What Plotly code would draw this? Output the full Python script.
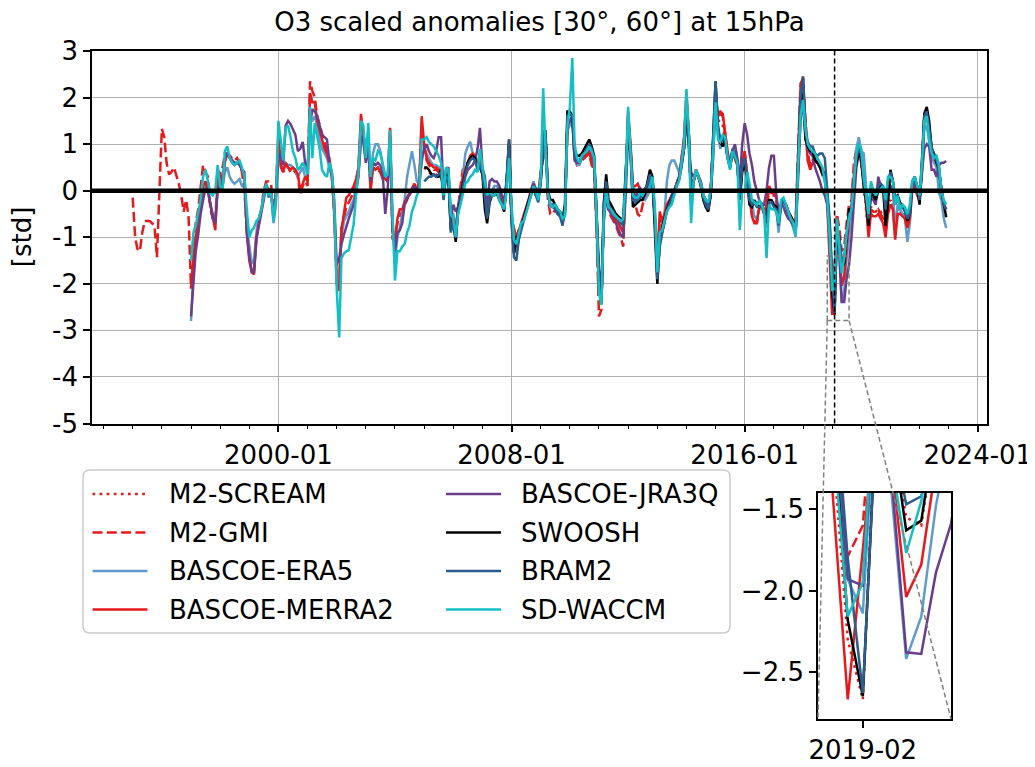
import pandas as pd
import plotly.graph_objects as go

# ---------------- data (monthly scaled anomalies) ----------------
M2_SCREAM_START = "2005-01-01"
M2_SCREAM = [
    0.5, 0.45, 0.4, 0.35, 0.35, 0.35, 0.3, 0.4, -0.1, 0.35, 0.3, -0.8,
    -0.6, -0.95, -0.4, -0.1, 0.25, 0.45, 0.6, 0.7, 0.8, 0.75, 0.5, 0.6,
    0.4, -0.1, -0.5, -0.15, -0.05, 0.0, 0.0, -0.15, -0.25, -0.4, 0.2, 1.0,
    -0.6, -1.0, -1.05, -0.9, -0.75, -0.55, -0.4, -0.2, 0.0, 0.15, 0.0, -0.15,
    0.3, 0.8, 1.25, -0.1, -0.35, -0.35, -0.35, -0.45, -0.5, -0.6, -0.4, 1.5,
    1.55, 1.6, 0.75, 0.6, 0.65, 0.7, 0.75, 0.8, 0.85, 0.7, 0.55, -0.6,
    -2.3, -2.4, -0.5, 0.1, -0.35, -0.45, -0.55, -0.6, -0.7, -0.8, -0.9, 0.2,
    1.6, 0.9, 0.0, 0.0, -0.1, -0.1, -0.05, 0.0, 0.1, 0.25, 0.3, -0.5,
    -1.7, -0.8, -0.75, -0.55, -0.35, -0.25, -0.1, 0.0, 0.15, 0.3, 0.65, 1.05,
    2.0, 1.15, -0.25, 0.25, 0.45, 0.3, 0.15, -0.1, -0.2, -0.3, 0.0, 0.9,
    2.1, 1.5, 1.5, 1.4, 1.15, 0.8, 0.5, 0.85, 0.7, 0.55, -0.1, 0.5,
    0.8, 0.3, -0.1, -0.45, -0.55, -0.6, -0.35, -0.3, -0.5, -0.4, 0.0, -0.1,
    -0.1, -0.2, -0.65, -0.3, -0.2, -0.3, -0.45, -0.55, -0.65, -0.7, 0.8, 2.1,
    2.4, 1.3, 0.75, 0.55, 0.65, 0.7, 0.6, 0.55, 0.45, 0.35, -0.2, -1.1,
    -2.3, -2.67, -0.8, -1.0, -1.55, -1.6, -1.0, -0.4, -0.4, 0.3, 0.8, 0.9,
    0.6, 0.1, -0.25, -0.9, -0.35, -0.4, -0.45, -0.4, -0.45, -0.55, -0.85, -0.35,
    -0.2, -0.3, -0.9, -0.4, -0.45, -0.5, -0.55, -0.75, -0.55, 0.05, 0.15, -0.05,
    -0.25, 0.55, 1.6, 1.7, 1.3, 0.9, 0.7, 0.6, 0.4, 0.0, -0.3, -0.45,
]

M2_GMI_START = "1995-01-01"
M2_GMI = [
    -0.15, -1.0, -1.25, -1.3, -0.9, -0.65, -0.65, -0.65, -0.7, -0.75, -1.43, 0.0,
    1.33, 1.15, 0.6, 0.35, 0.4, 0.5, 0.35, 0.15, -0.1, -0.45, -0.2, -0.55,
    -2.1, -1.3, -0.7, -0.4, 0.1, 0.55, 0.4, 0.3, -0.4, -0.6, -0.7, 0.4,
    0.4, 0.5, 0.8, 0.8, 0.75, 0.7, 0.65, 0.7, 0.6, 0.4, 0.0, -0.8,
    -1.3, -1.7, -1.7, -0.9, -0.6, -0.4, 0.0, 0.2, 0.2, 0.15, -0.5, 0.0,
    1.1, 0.5, 0.4, 0.55, 0.5, 0.4, 0.45, 0.4, 0.3, -0.1, 0.1, 0.2,
    0.1, 2.35, 2.15, 2.0, 1.6, 1.4, 1.2, 1.0, 0.85, 0.7, 0.3, -0.5,
    -1.8, -1.9, -0.8, -0.6, -0.35, -0.25, -0.15, 0.0, 0.2, 0.5, 1.5, 1.2,
    0.8, 1.0, 0.05, 0.5, 0.45, 0.45, 0.4, 0.25, 0.2, 0.2, 1.3, -1.05,
    -1.0, -0.7, -0.55, -0.45, -0.3, -0.2, -0.05, 0.0, 0.1, 0.0, 0.2, 1.45,
    0.9, 0.65, 0.55, 0.5, 0.45, 0.45, 0.4, 0.45, -0.1, 0.35, 0.3, -0.75,
    -0.6, -0.9, -0.4, 0.1, 0.45, 0.5, 0.6, 0.7, 0.8, 0.75, 0.5, 0.65,
    0.4, 0.1, -0.4, -0.1, -0.05, 0.0, 0.0, -0.15, -0.25, -0.4, 0.2, 1.0,
    -0.6, -0.8, -1.0, -0.85, -0.75, -0.6, -0.4, -0.2, 0.0, 0.15, 0.0, -0.1,
    0.4, 0.7, 1.2, -0.2, -0.5, -0.5, -0.4, -0.5, -0.55, -0.6, -0.45, 1.35,
    1.45, 1.55, 0.7, 0.55, 0.6, 0.65, 0.7, 0.75, 0.8, 0.55, 0.45, -0.75,
    -2.7, -2.55, -0.6, -0.1, -0.45, -0.55, -0.65, -0.75, -0.9, -1.0, -1.2, 0.1,
    1.6, 0.9, -0.1, -0.3, -0.5, -0.55, -0.3, -0.15, 0.0, 0.2, 0.3, -0.6,
    -1.6, -0.6, -0.7, -0.55, -0.35, -0.25, -0.15, 0.0, 0.15, 0.3, 0.7, 1.1,
    2.0, 1.1, -0.3, 0.2, 0.4, 0.3, 0.15, -0.15, -0.25, -0.3, 0.0, 0.9,
    1.9, 1.6, 1.65, 1.6, 1.15, 0.8, 0.5, 0.8, 0.7, 0.5, -0.15, 0.55,
    0.8, 0.25, -0.1, -0.5, -0.65, -0.7, -0.4, -0.3, -0.45, -0.35, 0.05, -0.05,
    -0.05, -0.2, -0.6, -0.3, -0.25, -0.35, -0.5, -0.6, -0.7, -0.75, 0.8, 2.3,
    2.4, 1.4, 0.8, 0.55, 0.65, 0.7, 0.6, 0.55, 0.45, 0.35, -0.2, -1.2,
    -1.79, -1.6, -0.5, -0.8, -1.3, -1.2, -0.7, -0.3, -0.2, 0.6, 0.9, 0.95,
    0.6, 0.15, -0.2, -0.85, -0.4, -0.45, -0.45, -0.4, -0.5, -0.6, -0.9, -0.4,
    -0.25, -0.35, -0.95, -0.45, -0.45, -0.5, -0.55, -0.75, -0.55, 0.05, 0.15, -0.05,
    -0.2, 0.5, 1.5, 1.65, 1.25, 0.9, 0.7, 0.6, 0.4, 0.0, -0.3, -0.4,
]

BASCOE_START = "1997-01-01"
BASCOE_ERA5 = [
    -2.8, -1.7, -1.1, -0.8, -0.4, -0.1, 0.15, 0.05, -0.3, -0.5, -0.6, 0.1,
    0.15, 0.1, 0.4, 0.5, 0.3, 0.2, 0.15, 0.2, 0.25, 0.1, 0.1, -0.8,
    -1.2, -1.55, -1.5, -0.9, -0.6, -0.4, -0.1, 0.1, -0.15, 0.0, -0.7, -0.3,
    0.9, 0.55, 0.45, 0.6, 0.55, 0.55, 0.5, 0.45, 0.3, 0.4, 0.5, 0.3,
    0.3, 1.5, 1.5, 1.6, 1.4, 1.1, 0.9, 0.8, 0.7, 0.5, 0.3, -0.4,
    -1.8, -2.0, -1.0, -0.65, -0.55, -0.45, -0.3, -0.2, 0.1, 0.4, 1.0, 1.1,
    0.75, 0.9, 0.3, 0.8, 1.0, 1.0, 0.85, 0.6, 0.3, 0.2, 1.0, -0.6,
    -1.5, -1.0, -0.8, -0.5, -0.2, 0.3, 0.6, 0.85, 0.55, 0.2, 0.15, 0.6,
    0.9, 0.8, 0.7, 0.6, 0.55, 0.55, 0.5, 0.5, 0.0, 0.4, 0.4, -0.5,
    -0.5, -0.8, -0.4, -0.1, 0.3, 0.8, 0.95, 1.05, 0.8, 0.7, 0.6, 0.8,
    0.4, 0.2, -0.2, 0.0, 0.0, 0.1, 0.1, 0.0, -0.1, -0.2, 0.1, 0.9,
    -0.4, -1.3, -1.3, -1.0, -0.8, -0.6, -0.4, -0.2, 0.0, 0.2, 0.05, -0.05,
    0.3, 1.1, 1.0, 0.0, -0.35, -0.35, -0.4, -0.5, -0.55, -0.7, -0.5, 1.3,
    1.4, 1.5, 0.7, 0.55, 0.55, 0.7, 0.75, 0.85, 0.9, 0.8, 0.6, -0.6,
    -1.9, -2.3, -0.6, -0.1, -0.35, -0.4, -0.5, -0.55, -0.65, -0.7, -0.7, 0.1,
    1.4, 0.9, 0.0, -0.3, -0.2, -0.1, -0.15, -0.2, -0.1, 0.0, 0.1, -0.6,
    -1.6, -1.0, -0.8, -0.5, 0.2, 0.55, 0.65, 0.65, 0.5, 0.4, 0.6, 0.9,
    1.6, 0.9, 0.1, 0.2, 0.4, 0.3, 0.1, -0.2, -0.35, -0.4, -0.1, 0.7,
    2.1, 1.2, 0.9, 1.0, 1.0, 0.7, 0.5, 0.8, 0.75, 0.6, -0.2, 0.5,
    0.6, 0.3, 0.0, -0.3, -0.55, -0.6, -0.4, -0.35, -0.5, -0.8, -0.3, -0.2,
    -0.3, -0.4, -0.9, -0.3, -0.2, -0.35, -0.5, -0.65, -0.8, -1.0, 0.4, 1.6,
    1.8, 1.1, 0.9, 0.85, 0.8, 0.7, 0.6, 0.5, 0.4, 0.2, -0.2, -0.9,
    -1.93, -2.14, -0.7, -1.4, -2.42, -2.16, -1.48, -1.0, -0.5, 0.3, 0.9, 1.15,
    0.85, 0.8, 0.1, -0.4, 0.0, -0.1, -0.2, 0.0, 0.0, 0.05, -0.3, 0.1,
    0.1, 0.0, -0.85, -0.3, -0.4, -0.5, -0.6, -1.1, -0.7, 0.1, 0.2, 0.0,
    -0.2, 0.5, 1.3, 1.4, 1.1, 0.7, 0.6, 0.5, -0.05, -0.2, -0.6, -0.8,
]

BASCOE_MERRA2 = [
    -2.1, -1.4, -1.0, -0.7, -0.35, 0.1, 0.2, 0.0, -0.3, -0.6, -0.85, 0.2,
    0.4, 0.1, 0.6, 0.8, 0.7, 0.6, 0.55, 0.6, 0.6, 0.45, 0.3, -0.9,
    -1.5, -1.75, -1.8, -1.0, -0.7, -0.45, -0.1, 0.15, 0.0, 0.05, -0.6, -0.1,
    1.2, 0.55, 0.4, 0.6, 0.5, 0.45, 0.5, 0.45, 0.35, 0.0, 0.15, 0.3,
    0.2, 2.1, 1.9, 1.9, 1.5, 1.3, 1.1, 0.9, 0.8, 0.6, 0.3, -0.5,
    -2.0, -2.15, -0.85, -0.45, -0.15, -0.1, 0.0, 0.1, 0.25, 0.5, 1.65, 1.2,
    0.9, 1.1, 0.0, 0.5, 0.45, 0.5, 0.4, 0.3, 0.25, 0.2, 1.35, -0.9,
    -1.05, -0.6, -0.4, -0.4, -0.25, -0.15, -0.05, 0.05, 0.15, 0.0, 0.2, 1.6,
    1.0, 0.7, 0.6, 0.55, 0.5, 0.5, 0.45, 0.45, -0.1, 0.4, 0.35, -0.7,
    -0.6, -0.85, -0.4, -0.15, 0.3, 0.45, 0.6, 0.75, 0.8, 0.75, 0.55, 0.7,
    0.4, 0.15, -0.35, -0.1, -0.05, 0.0, 0.0, -0.1, -0.2, -0.35, 0.2, 1.0,
    -0.6, -0.85, -1.0, -0.85, -0.7, -0.5, -0.35, -0.2, 0.0, 0.15, 0.0, -0.1,
    0.4, 0.7, 1.3, -0.1, -0.3, -0.35, -0.35, -0.45, -0.5, -0.6, -0.4, 1.4,
    1.5, 1.6, 0.75, 0.6, 0.65, 0.7, 0.75, 0.8, 0.85, 0.6, 0.5, -0.7,
    -2.2, -2.3, -0.5, 0.0, -0.35, -0.45, -0.55, -0.6, -0.7, -0.8, -0.9, 0.2,
    1.7, 1.0, 0.1, 0.1, 0.15, 0.0, 0.0, 0.05, 0.1, 0.2, 0.3, -0.5,
    -1.5, -0.45, -0.65, -0.5, -0.3, -0.2, -0.1, 0.0, 0.15, 0.3, 0.7, 1.1,
    2.1, 1.2, -0.2, 0.25, 0.45, 0.3, 0.2, -0.1, -0.2, -0.3, 0.0, 0.9,
    2.0, 1.65, 1.7, 1.65, 1.2, 0.85, 0.5, 0.85, 0.7, 0.55, -0.1, 0.6,
    0.85, 0.3, -0.1, -0.55, -0.7, -0.7, -0.35, -0.3, -0.5, -0.3, 0.1, 0.0,
    0.0, -0.15, -0.6, -0.3, -0.2, -0.3, -0.45, -0.55, -0.65, -0.65, 0.85, 2.2,
    2.45, 1.3, 0.65, 0.45, 0.6, 0.65, 0.6, 0.55, 0.45, 0.3, -0.3, -1.4,
    -2.67, -1.75, -0.85, -1.2, -2.04, -1.84, -1.2, -0.6, -0.4, 0.3, 0.8, 0.9,
    0.6, 0.1, -0.3, -1.0, -0.5, -0.55, -0.55, -0.5, -0.6, -0.7, -1.0, -0.5,
    -0.3, -0.4, -1.05, -0.5, -0.5, -0.55, -0.6, -0.8, -0.6, 0.0, 0.1, -0.1,
    -0.2, 0.5, 1.6, 1.7, 1.3, 0.9, 0.7, 0.6, 0.4, 0.0, -0.3, -0.4,
]

BASCOE_JRA3Q = [
    -2.7, -1.9, -1.3, -0.95, -0.5, -0.2, 0.05, 0.0, -0.35, -0.6, -0.7, 0.0,
    0.1, 0.2, 0.7, 0.8, 0.75, 0.65, 0.6, 0.6, 0.55, 0.45, 0.4, -0.9,
    -1.4, -1.75, -1.75, -1.05, -0.75, -0.5, -0.2, 0.1, -0.1, -0.05, -0.5, -0.1,
    0.7, 0.8, 0.55, 1.4, 1.5, 1.43, 1.3, 1.2, 0.85, 0.9, 1.05, 0.6,
    0.5, 1.4, 1.75, 1.7, 1.6, 1.4, 1.2, 1.15, 1.1, 0.6, 0.4, -0.2,
    -1.6, -1.45, -1.15, -0.95, -0.75, -0.6, -0.45, -0.3, 0.0, 0.3, 1.2, 1.05,
    0.6, 0.9, 0.2, 0.6, 0.55, 0.6, 0.55, 0.35, -0.5, 0.0, 1.1, -0.8,
    -1.3, -0.9, -0.85, -0.7, -0.3, -0.15, -0.1, 0.0, 0.1, 0.0, 0.1, 0.7,
    0.9, 1.0, 0.85, 0.75, 0.7, 0.85, 1.15, 1.15, -0.05, 0.45, 0.5, -0.6,
    -0.3, -0.45, -0.35, -0.1, 0.05, 0.3, 0.45, 0.5, 0.55, 0.65, 0.9, 1.35,
    0.5, 0.3, -0.3, 0.2, 0.25, 0.2, 0.2, 0.1, -0.1, -0.2, 0.1, 0.8,
    -0.5, -1.2, -1.2, -0.9, -0.8, -0.6, -0.45, -0.3, -0.1, 0.15, 0.0, -0.1,
    0.2, 1.3, 1.2, -0.1, -0.3, -0.3, -0.35, -0.45, -0.5, -0.65, -0.5, 1.4,
    1.5, 1.6, 0.65, 0.6, 0.6, 0.7, 0.8, 0.85, 0.9, 0.85, 0.6, -0.5,
    -1.6, -2.2, -0.7, -0.1, -0.4, -0.5, -0.55, -0.7, -0.85, -0.95, -1.0, -0.1,
    1.2, 0.8, 0.1, -0.2, 0.0, 0.05, -0.05, 0.05, 0.1, 0.25, 0.3, -0.5,
    -1.5, -1.0, -0.9, -0.7, -0.4, -0.25, -0.1, 0.0, 0.15, 0.3, 0.6, 0.9,
    1.6, 1.0, 0.4, 0.3, 0.4, 0.3, 0.15, -0.1, -0.2, -0.3, -0.05, 0.7,
    2.0, 1.3, 1.0, 1.1, 1.1, 0.75, 0.6, 0.85, 1.0, 0.7, 0.2, 1.0,
    1.45, 1.2, 0.8, 0.55, 0.2, 0.0, -0.2, -0.3, -0.3, 0.0, 0.5, 0.75,
    0.75, -0.1, -0.45, -0.3, -0.35, -0.5, -0.6, -0.65, -0.75, -0.9, 0.3, 1.5,
    2.0, 1.2, 0.9, 0.8, 0.75, 0.5, 0.35, 0.2, 0.0, -0.1, -0.3, -0.7,
    -1.93, -1.97, -0.7, -1.3, -2.38, -2.39, -1.89, -1.59, -1.0, -0.3, 0.5, 0.8,
    0.7, 0.2, -0.2, -0.6, -0.1, -0.2, -0.3, 0.3, 0.1, 0.05, -0.2, 0.2,
    0.1, 0.0, -0.3, -0.2, -0.3, -0.3, -0.4, -0.5, -0.4, 0.1, 0.2, 0.0,
    -0.2, 0.4, 0.9, 1.0, 0.95, 0.45, 0.45, 0.3, 0.55, 0.6, 0.6, 0.64,
]

MLS_START = "2005-01-01"
SWOOSH = [
    0.5, 0.5, 0.45, 0.35, 0.35, 0.3, 0.3, 0.45, -0.1, 0.35, 0.3, -0.85,
    -0.7, -1.1, -0.45, -0.2, 0.15, 0.4, 0.6, 0.7, 0.75, 0.7, 0.5, 0.5,
    0.35, -0.4, -0.7, -0.25, -0.1, -0.1, -0.05, -0.2, -0.3, -0.45, 0.2, 1.1,
    -0.6, -1.35, -1.0, -0.95, -0.8, -0.6, -0.4, -0.2, -0.05, 0.1, -0.1, -0.2,
    0.2, 1.0, 1.2, 0.0, -0.2, -0.2, -0.3, -0.4, -0.45, -0.6, -0.3, 1.7,
    1.7, 1.6, 0.85, 0.75, 0.75, 0.8, 0.9, 1.0, 1.1, 0.95, 0.75, -0.4,
    -2.0, -2.4, -0.3, 0.35, -0.2, -0.3, -0.4, -0.5, -0.55, -0.6, -0.6, 0.3,
    1.4, 0.8, -0.35, -0.3, -0.25, -0.2, -0.2, -0.05, 0.2, 0.45, 0.3, -0.7,
    -2.0, -1.1, -0.8, -0.6, -0.4, -0.25, -0.15, 0.0, 0.1, 0.25, 0.55, 0.9,
    1.7, 1.1, -0.2, 0.2, 0.4, 0.3, 0.1, -0.2, -0.35, -0.45, -0.1, 1.0,
    2.35, 1.3, 1.05, 0.95, 1.1, 0.7, 0.5, 0.85, 0.7, 0.6, -0.2, 0.4,
    0.6, 0.2, -0.3, -0.35, -0.2, -0.3, -0.35, -0.3, -0.45, -0.6, -0.2, -0.2,
    -0.3, -0.35, -0.7, -0.3, -0.2, -0.3, -0.45, -0.55, -0.65, -0.85, 0.6, 1.9,
    2.3, 1.1, 0.95, 0.85, 0.85, 0.65, 0.6, 0.5, 0.35, 0.4, -0.1, -0.9,
    -2.18, -2.65, -0.9, -1.0, -1.63, -1.57, -1.0, -0.4, -0.4, 0.2, 0.6, 0.8,
    0.7, 0.1, -0.2, -0.75, 0.0, -0.1, -0.2, 0.0, 0.1, 0.05, -0.75, -0.3,
    0.45, 0.2, -0.15, -0.1, -0.25, -0.35, -0.4, -0.65, -0.5, 0.2, 0.3, 0.1,
    -0.3, 0.7, 1.65, 1.8, 1.5, 0.9, 0.8, 0.6, 0.5, 0.0, -0.3, -0.57,
]

BRAM2 = [
    0.2, 0.25, 0.3, 0.3, 0.35, 0.3, 0.35, 0.4, -0.2, 0.3, 0.25, -0.9,
    -0.65, -1.0, -0.5, -0.2, 0.1, 0.35, 0.55, 0.65, 0.7, 0.65, 0.45, 0.55,
    0.4, -0.2, -0.6, -0.2, -0.1, -0.05, 0.0, -0.15, -0.3, -0.4, 0.3, 1.1,
    -0.7, -1.43, -1.5, -1.05, -0.85, -0.65, -0.45, -0.25, -0.05, 0.1, -0.1, -0.25,
    0.2, 1.0, 1.3, -0.05, -0.3, -0.3, -0.4, -0.5, -0.55, -0.75, -0.4, 1.6,
    1.65, 1.6, 0.8, 0.65, 0.65, 0.75, 0.8, 0.9, 1.0, 0.9, 0.7, -0.5,
    -2.1, -2.4, -0.4, 0.2, -0.3, -0.4, -0.45, -0.55, -0.6, -0.7, -0.75, 0.2,
    1.5, 0.8, -0.2, -0.25, -0.2, -0.15, -0.1, 0.0, 0.15, 0.35, 0.2, -0.6,
    -1.9, -1.2, -0.9, -0.65, -0.45, -0.3, -0.15, -0.05, 0.1, 0.25, 0.5, 0.9,
    1.8, 1.2, -0.4, 0.2, 0.4, 0.3, 0.1, -0.15, -0.3, -0.4, -0.05, 1.1,
    2.35, 1.4, 1.1, 1.1, 1.15, 0.75, 0.55, 0.9, 0.75, 0.65, -0.1, 0.5,
    0.7, 0.3, -0.2, -0.3, -0.25, -0.35, -0.35, -0.3, -0.5, -0.7, -0.25, -0.25,
    -0.35, -0.4, -0.75, -0.3, -0.2, -0.3, -0.45, -0.6, -0.7, -0.9, 0.6, 2.0,
    2.45, 1.35, 1.05, 0.95, 0.95, 0.8, 0.75, 0.8, 0.8, 0.7, 0.0, -0.6,
    -1.8, -2.63, -0.9, -1.0, -1.47, -1.42, -1.0, -0.5, -0.45, 0.2, 0.7, 0.9,
    0.8, 0.2, -0.1, -0.6, 0.1, 0.0, -0.1, 0.1, 0.15, 0.1, -0.4, 0.2,
    0.4, 0.2, -0.2, -0.15, -0.3, -0.35, -0.45, -0.6, -0.5, 0.15, 0.3, 0.1,
    -0.2, 0.6, 1.6, 1.7, 1.3, 0.95, 0.75, 0.65, 0.45, 0.0, -0.3, -0.4,
]

SD_WACCM = [
    -1.5, -0.9, -0.75, -0.45, -0.2, 0.3, 0.45, 0.2, -0.05, -0.1, 0.0, 0.55,
    0.1, 0.0, 0.85, 0.95, 0.7, 0.6, 0.55, 0.6, 0.65, 0.5, 0.3, -0.4,
    -1.0, -0.85, -0.8, -0.65, -0.6, -0.4, -0.1, 0.15, -0.1, 0.0, -0.65, -0.2,
    1.5, 1.0, 0.65, 1.35, 1.4, 1.15, 0.85, 0.7, 0.45, 0.5, 0.6, 0.5,
    0.35, 1.8, 0.7, 1.45, 1.2, 0.9, 0.45, 0.35, 0.3, 0.6, 0.4, -0.3,
    -2.1, -3.15, -1.45, -1.35, -1.3, -1.28, -1.0, -0.72, -0.1, 0.4, 1.5, 1.4,
    0.7, 1.45, 0.3, 0.7, 0.65, 0.85, 0.8, 0.55, 0.3, 0.35, 1.3, -0.5,
    -1.93, -1.3, -1.3, -1.2, -1.15, -0.9, -0.75, -0.45, -0.3, -0.1, 0.0, 1.1,
    1.1, 1.15, 1.05, 1.0, 0.95, 0.85, 0.75, 0.6, -0.1, 0.5, 0.45, -0.5,
    -0.6, -1.0, -0.5, -0.3, -0.05, 0.15, 0.2, 0.3, 0.35, 0.45, 0.4, 0.9,
    0.5, 0.2, -0.1, 0.0, -0.1, -0.1, 0.0, -0.2, -0.3, -0.4, 0.0, 0.7,
    -0.3, -1.05, -1.15, -0.9, -0.7, -0.65, -0.5, -0.3, -0.1, 0.1, 0.0, -0.2,
    0.3, 2.2, 0.9, -0.05, -0.3, -0.35, -0.3, -0.4, -0.45, -0.6, -0.55, 1.4,
    1.8, 2.85, 1.0, 0.7, 0.6, 0.75, 0.8, 0.85, 0.95, 0.85, 0.7, -0.5,
    -2.2, -2.45, -0.6, 0.0, -0.35, -0.4, -0.5, -0.55, -0.6, -0.65, -0.6, 0.2,
    1.8, 0.9, -0.1, -0.15, -0.15, -0.05, -0.1, 0.0, 0.0, 0.1, 0.3, -0.3,
    -1.75, -0.9, -0.85, -0.65, -0.45, -0.35, -0.3, -0.1, 0.1, 0.2, 0.6, 1.0,
    2.18, 1.2, -0.7, 0.2, 0.45, 0.3, 0.15, -0.1, -0.2, -0.25, 0.0, 0.8,
    1.9, 1.1, 1.05, 1.2, 1.15, 0.7, 0.45, 0.85, 0.7, 0.6, -0.85, 0.0,
    0.0, 0.4, 0.15, -0.2, -0.25, -0.3, -0.2, -0.3, -0.45, -1.45, -0.3, -0.4,
    -0.4, -0.45, -0.7, -0.2, -0.15, -0.3, -0.45, -0.6, -0.7, -0.95, 0.5, 1.6,
    1.95, 1.3, 1.0, 0.9, 0.85, 0.8, 0.7, 0.6, 0.5, 0.2, -0.2, -1.0,
    -2.16, -1.95, -0.6, -1.2, -1.77, -1.45, -0.9, -0.6, -0.4, 0.2, 0.8, 1.0,
    0.9, 0.3, -0.1, -0.5, 0.2, 0.0, -0.1, 0.0, 0.05, 0.1, -0.2, 0.3,
    0.3, 0.2, -0.3, -0.1, -0.4, -0.3, -0.35, -0.5, -0.3, 0.2, 0.3, 0.1,
    -0.1, 0.6, 1.5, 1.6, 1.1, 0.8, 0.7, 0.75, 0.55, 0.0, -0.2, -0.3,
]

TITLE = "O3 scaled anomalies [30°, 60°] at 15hPa"
Y_LABEL = "[std]"
MAIN_X_TICKS = ["2000-01-01", "2008-01-01", "2016-01-01", "2024-01-01"]
MAIN_X_LABELS = ["2000-01", "2008-01", "2016-01", "2024-01"]
MAIN_Y_TICKS = [-5, -4, -3, -2, -1, 0, 1, 2, 3]
MAIN_Y_LABELS = ["-5", "-4", "-3", "-2", "-1", "0", "1", "2", "3"]
INSET_X_TICKS = ["2019-02-01"]
INSET_X_LABELS = ["2019-02"]
INSET_Y_TICKS = [-2.5, -2.0, -1.5]
INSET_Y_LABELS = ["\u22122.5", "\u22122.0", "\u22121.5"]
EVENT_DATE = "2019-02-01"

# ---------------- styling / layout geometry ----------------
W, H = 1035, 767
S = 8  # the page body adds an 8 px offset; screen positions below are compensated
# target screen positions of the plotting region: left 92, right 987, top 51, bottom 719
ML = 92 - S
MT = 51 - S
MR = W - (987 - S)
MB = H - (719 - S)
PW, PH = W - ML - MR, H - MT - MB
FONT = "DejaVu Sans"
FS = 26

RED = "#e41a1c"
LBLUE = "#5f9bcb"
PURPLE = "#6a3d8a"
DBLUE = "#2b5d8c"
CYAN = "#14bfc4"
LW = 2.5

def pxx(sx):
    return (sx - S - ML) / PW

def pxy(sy):
    return (H - MB - (sy - S)) / PH

X_RANGE = ["1993-08-09", "2024-04-25"]
Y_RANGE = [-5, 3]
MAIN_YDOM = [pxy(423.5), 1.0]
INSET_XDOM = [pxx(818), pxx(951)]
INSET_YDOM = [0.0, pxy(493)]
INSET_X_RANGE = ["2018-11-01", "2019-08-01"]
INSET_Y_RANGE = [-2.79, -1.40]

series = [
    ("M2-SCREAM", M2_SCREAM, M2_SCREAM_START, RED, "2.7px,4.4px"),
    ("M2-GMI", M2_GMI, M2_GMI_START, RED, "10px,4.3px"),
    ("BASCOE-ERA5", BASCOE_ERA5, BASCOE_START, LBLUE, "solid"),
    ("BASCOE-MERRA2", BASCOE_MERRA2, BASCOE_START, RED, "solid"),
    ("BASCOE-JRA3Q", BASCOE_JRA3Q, BASCOE_START, PURPLE, "solid"),
    ("SWOOSH", SWOOSH, MLS_START, "black", "solid"),
    ("BRAM2", BRAM2, MLS_START, DBLUE, "solid"),
    ("SD-WACCM", SD_WACCM, BASCOE_START, CYAN, "solid"),
]

fig = go.Figure()
for name, vals, start, color, dash in series:
    dates = pd.date_range(start, periods=len(vals), freq="MS")
    for xa, ya in (("x", "y"), ("x2", "y2")):
        fig.add_trace(go.Scatter(
            x=dates, y=vals, mode="lines", name=name,
            line=dict(color=color, width=LW, dash=dash),
            xaxis=xa, yaxis=ya, showlegend=False, hoverinfo="skip"))

axis_common = dict(showline=True, linecolor="black", linewidth=1.6, mirror=True,
                   ticks="outside", ticklen=7, tickwidth=1.6, tickcolor="black",
                   zeroline=False, tickfont=dict(family=FONT, size=FS, color="black"))

fig.update_layout(
    width=W, height=H,
    margin=dict(l=ML, r=MR, t=MT, b=MB, pad=0, autoexpand=False),
    paper_bgcolor="white", plot_bgcolor="white",
    font=dict(family=FONT, size=FS, color="black"),
    showlegend=False,
    title=dict(text=TITLE, x=0.5, xref="paper", xanchor="center",
               y=1 - (22 - S) / H, yref="container", yanchor="middle",
               font=dict(family=FONT, size=FS, color="black")),
    xaxis=dict(domain=[0, 1], range=X_RANGE, type="date", anchor="y",
               tickmode="array", tickvals=MAIN_X_TICKS, ticktext=MAIN_X_LABELS,
               showgrid=True, gridcolor="#b0b0b0", gridwidth=1,
               minor=dict(tickmode="linear", tick0="1994-01-01", dtick="M12",
                          ticks="outside", ticklen=4, tickwidth=1.3,
                          tickcolor="black", showgrid=False),
               **axis_common),
    yaxis=dict(domain=MAIN_YDOM, range=Y_RANGE, anchor="x",
               tickmode="array", tickvals=MAIN_Y_TICKS, ticktext=MAIN_Y_LABELS,
               showgrid=True, gridcolor="#b0b0b0", gridwidth=1,
               **axis_common),
    xaxis2=dict(domain=INSET_XDOM, range=INSET_X_RANGE, type="date", anchor="y2",
                tickmode="array", tickvals=INSET_X_TICKS, ticktext=INSET_X_LABELS,
                showgrid=False, **axis_common),
    yaxis2=dict(domain=INSET_YDOM, range=INSET_Y_RANGE, anchor="x2",
                tickmode="array", tickvals=INSET_Y_TICKS, ticktext=INSET_Y_LABELS,
                showgrid=False, **axis_common),
)

# zero line, event line and zoom box in the main panel
fig.add_shape(type="line", xref="x domain", yref="y", x0=0, x1=1, y0=0, y1=0,
              line=dict(color="black", width=4.5), layer="above")
fig.add_shape(type="line", xref="x", yref="y domain", x0=EVENT_DATE, x1=EVENT_DATE,
              y0=0, y1=1, line=dict(color="black", width=1.5, dash="5px,3px"), layer="above")
fig.add_shape(type="rect", xref="x", yref="y",
              x0=INSET_X_RANGE[0], x1=INSET_X_RANGE[1],
              y0=INSET_Y_RANGE[0], y1=INSET_Y_RANGE[1],
              line=dict(color="#808080", width=1.5, dash="5px,3px"), layer="above")

# connectors from zoom box bottom corners to inset bottom corners (paper coords)
t0, t1 = pd.Timestamp(X_RANGE[0]), pd.Timestamp(X_RANGE[1])
def main_to_paper(date, val):
    fx = (pd.Timestamp(date) - t0) / (t1 - t0)
    fy = MAIN_YDOM[0] + (val - Y_RANGE[0]) / (Y_RANGE[1] - Y_RANGE[0]) * (MAIN_YDOM[1] - MAIN_YDOM[0])
    return fx, fy

for corner_date, inset_x in ((INSET_X_RANGE[0], INSET_XDOM[0]), (INSET_X_RANGE[1], INSET_XDOM[1])):
    cx, cy = main_to_paper(corner_date, INSET_Y_RANGE[0])
    fig.add_shape(type="line", xref="paper", yref="paper", x0=cx, y0=cy,
                  x1=inset_x, y1=INSET_YDOM[0],
                  line=dict(color="#808080", width=1.5, dash="5px,3px"), layer="above")

# y label
fig.add_annotation(text=Y_LABEL, xref="paper", yref="paper", x=pxx(22),
                   y=(MAIN_YDOM[0] + MAIN_YDOM[1]) / 2, textangle=-90,
                   showarrow=False, xanchor="center", yanchor="middle",
                   font=dict(family=FONT, size=FS, color="black"))

# legend (two columns, matplotlib-like frame)
bx0, bx1, by0, by1 = pxx(83), pxx(730), pxy(633), pxy(470)
rx, ry = 7 / PW, 7 / PH
path = (f"M {bx0+rx},{by0} L {bx1-rx},{by0} Q {bx1},{by0} {bx1},{by0+ry} "
        f"L {bx1},{by1-ry} Q {bx1},{by1} {bx1-rx},{by1} L {bx0+rx},{by1} "
        f"Q {bx0},{by1} {bx0},{by1-ry} L {bx0},{by0+ry} Q {bx0},{by0} {bx0+rx},{by0} Z")
fig.add_shape(type="path", path=path, xref="paper", yref="paper",
              fillcolor="rgba(255,255,255,0.85)", line=dict(color="#cccccc", width=1.5),
              layer="above")
row_y = [494, 532.5, 571, 609.5]
cols = [(92.5, 147.5, 167), (446, 501, 519)]
for i, (name, vals, start, color, dash) in enumerate(series):
    c, r = divmod(i, 4)
    lx0, lx1, tx = cols[c]
    yy = pxy(row_y[r])
    fig.add_shape(type="line", xref="paper", yref="paper", x0=pxx(lx0), x1=pxx(lx1),
                  y0=yy, y1=yy, line=dict(color=color, width=LW, dash=dash), layer="above")
    fig.add_annotation(text=name, xref="paper", yref="paper", x=pxx(tx), y=yy,
                       showarrow=False, xanchor="left", yanchor="middle",
                       font=dict(family=FONT, size=FS, color="black"))

fig.write_html("out.html")
